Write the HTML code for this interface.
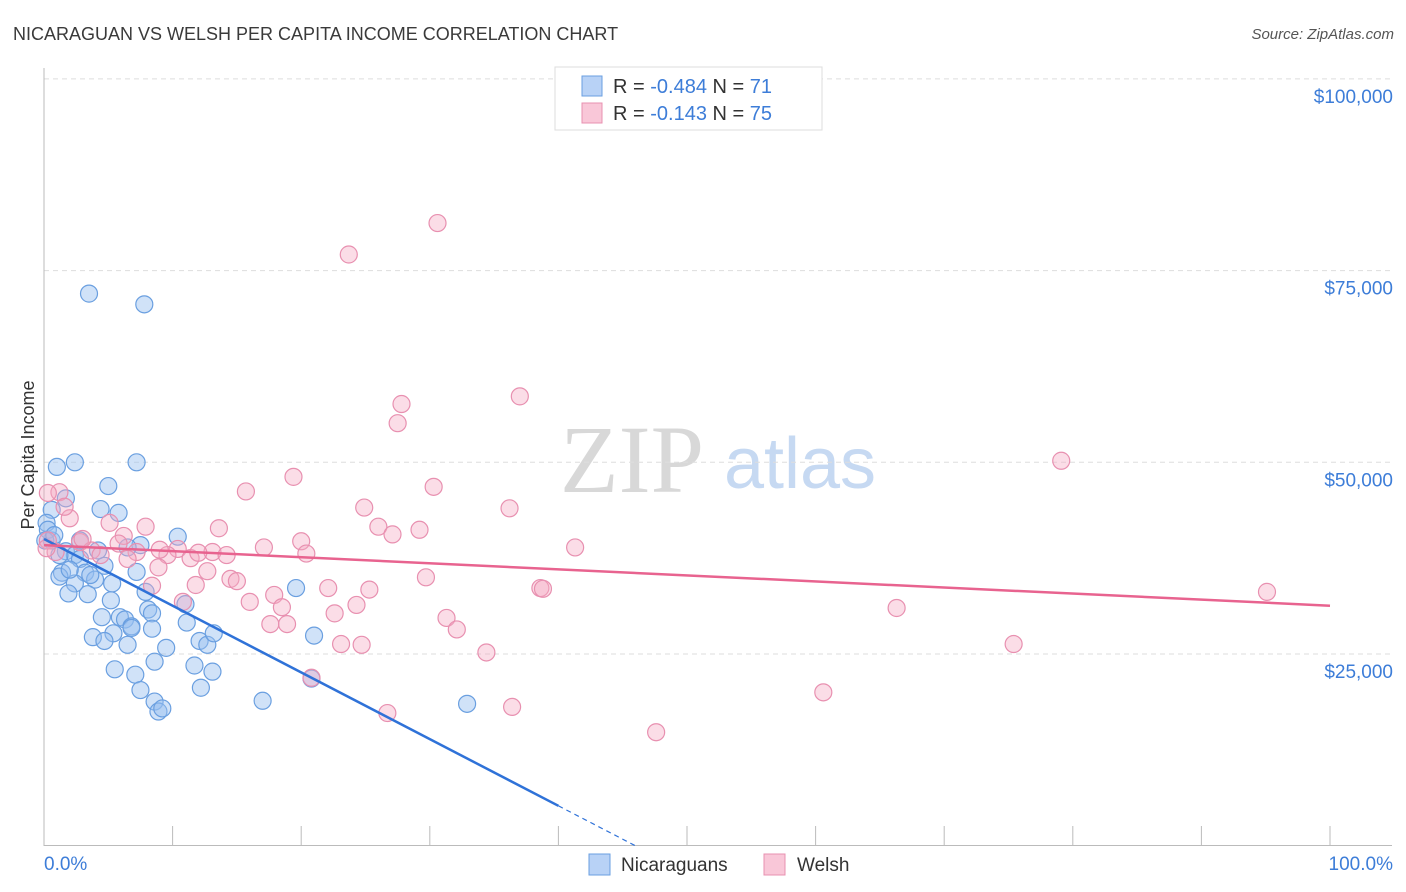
<!DOCTYPE html>
<html><head><meta charset="utf-8"><style>
body{margin:0;background:#fff;font-family:"Liberation Sans",sans-serif}
svg{display:block}
</style></head><body>
<svg width="1406" height="892" xmlns="http://www.w3.org/2000/svg">
<text x="13" y="40" font-size="18" fill="#3a3a3a">NICARAGUAN VS WELSH PER CAPITA INCOME CORRELATION CHART</text>
<text x="1394" y="39" font-size="15" fill="#555" font-style="italic" text-anchor="end">Source: ZipAtlas.com</text>
<g>
<text x="632" y="492" font-size="96" fill="#d8d8d8" font-family="Liberation Serif,serif" text-anchor="middle">ZIP</text>
<text x="800" y="488" font-size="72" fill="#c6d9f2" text-anchor="middle">atlas</text>
</g>
<g id="grid"></g>
<g id="axes"></g>
<g id="marks"></g>
<text transform="translate(34,455) rotate(-90)" font-size="18" fill="#333" text-anchor="middle">Per Capita Income</text>
<g>
<rect x="555" y="67" width="267" height="63" fill="#fff" stroke="#ddd"/>
<rect x="582" y="76" width="20" height="20" fill="#b8d2f6" stroke="#6a9fe0"/>
<rect x="582" y="103" width="20" height="20" fill="#f9c7d8" stroke="#e890b0"/>
<text x="613" y="93" font-size="20" fill="#333">R = <tspan fill="#3d7dd8">-0.484</tspan>   N = <tspan fill="#3d7dd8">71</tspan></text>
<text x="613" y="120" font-size="20" fill="#333">R =  <tspan fill="#3d7dd8">-0.143</tspan>   N = <tspan fill="#3d7dd8">75</tspan></text>
</g>
<g>
<rect x="589" y="854" width="21" height="21" fill="#b8d2f6" stroke="#6a9fe0"/>
<text x="621" y="871" font-size="19" fill="#333">Nicaraguans</text>
<rect x="764" y="854" width="21" height="21" fill="#f9c7d8" stroke="#e890b0"/>
<text x="797" y="871" font-size="19" fill="#333">Welsh</text>
</g>
</svg>
<script>
const yTicks=[25000,50000,75000,100000];
const yTickLabels=["$25,000","$50,000","$75,000","$100,000"];
const xTickVals=[0,10,20,30,40,50,60,70,80,90,100];
const blueX=[3.5,7.8,1.0,2.4,7.2,1.7,5.0,0.6,4.4,5.8,0.2,10.4,0.6,7.5,1.7,2.4,4.2,6.5,2.8,4.7,7.2,1.4,3.2,3.97,1.2,2.4,1.9,3.4,5.2,8.1,8.4,4.5,5.9,6.3,11.0,11.1,6.8,8.4,3.8,5.4,4.7,6.5,12.1,12.7,13.2,9.5,8.6,11.7,5.5,13.1,7.1,7.5,12.2,8.6,8.9,9.2,19.6,21.0,17.0,20.8,32.9,6.8,0.3,0.1,3.6,5.3,1.2,7.9,2.8,0.8,2.0];
const blueY=[72.0,70.6,49.4,50.0,50.0,45.3,46.9,43.8,43.9,43.4,42.1,40.3,39.8,39.2,38.4,37.9,38.5,38.9,37.4,36.5,35.7,35.6,35.6,34.7,35.1,34.2,32.9,32.8,32.0,30.8,30.3,29.8,29.8,29.5,31.5,29.1,28.6,28.3,27.2,27.7,26.7,26.2,26.7,26.2,27.7,25.8,24.0,23.5,23.0,22.7,22.3,20.3,20.6,18.8,17.5,17.9,33.6,27.4,18.9,21.8,18.5,28.4,41.2,39.8,35.3,34.2,37.9,33.1,39.8,40.5,36.0];
const pinkX=[30.6,23.7,27.8,37.0,27.5,79.1,19.4,30.3,15.7,1.2,0.3,24.9,36.2,2.0,7.9,13.6,26.0,29.2,27.1,5.1,2.8,6.2,20.0,17.1,41.3,10.4,3.7,7.2,13.1,20.4,14.2,9.6,0.9,11.4,6.5,4.4,8.9,12.7,14.5,15.0,29.7,8.4,11.8,22.1,25.3,38.6,17.9,16.0,10.8,18.5,24.3,66.3,95.1,22.6,31.3,17.6,18.9,32.1,23.1,24.7,75.4,34.4,20.8,60.6,26.7,36.4,47.6,0.3,0.2,5.8,1.6,3.0,9.0,38.8,12.0];
const pinkY=[81.2,77.1,57.6,58.6,55.1,50.2,48.1,46.8,46.2,46.1,46.0,44.1,44.0,42.7,41.6,41.4,41.6,41.2,40.6,42.1,39.6,40.4,39.7,38.9,38.9,38.7,38.5,38.3,38.3,38.1,37.9,37.9,38.3,37.5,37.4,37.9,36.3,35.8,34.8,34.5,35.0,33.9,34.0,33.6,33.4,33.6,32.7,31.8,31.8,31.1,31.4,31.0,33.1,30.3,29.7,28.9,28.9,28.2,26.3,26.2,26.3,25.2,21.9,20.0,17.3,18.1,14.8,39.8,38.8,39.4,44.2,40.0,38.6,33.5,38.2];
const blueTrend=[40.0,-0.87];
const pinkTrend=[39.2,-0.079];
const NS="http://www.w3.org/2000/svg";
function X(p){return 44+p*12.86;}
function Y(k){return 845.7-k*1000*191.7/25000;}
function mk(t,a,parent){const e=document.createElementNS(NS,t);for(const k in a)e.setAttribute(k,a[k]);document.getElementById(parent).appendChild(e);return e;}
yTicks.forEach((v,i)=>{
 const l=mk('line',{x1:44,x2:1392,y1:Y(v/1000),y2:Y(v/1000),stroke:'#ddd','stroke-dasharray':'5,4'},'grid');
 
 
 const t=mk('text',{x:1393,y:Y(v/1000)+24,'font-size':19,fill:'#3d7dd8','text-anchor':'end'},'grid');
 t.textContent=yTickLabels[i];
 
 
});
let ax=mk('line',{x1:44,x2:44,y1:68,y2:846,stroke:'#bbb'},'axes');


ax=mk('line',{x1:44,x2:1392,y1:845.5,y2:845.5,stroke:'#bbb'},'axes');


xTickVals.forEach(v=>{
 if(v===0)return;
 const t=mk('line',{x1:X(v),x2:X(v),y1:826,y2:845,stroke:'#bbb'},'axes');
 
 
});
let xl=mk('text',{x:44,y:870,'font-size':19,fill:'#3d7dd8'},'axes');xl.textContent='0.0%';


xl=mk('text',{x:1393,y:870,'font-size':19,fill:'#3d7dd8','text-anchor':'end'},'axes');xl.textContent='100.0%';


blueX.forEach((x,i)=>{
 const c=mk('circle',{cx:X(x),cy:Y(blueY[i]),r:8.5,fill:'rgba(150,190,240,0.45)',stroke:'#6a9fe0','stroke-width':1.2},'marks');
 
 
});
pinkX.forEach((x,i)=>{
 const c=mk('circle',{cx:X(x),cy:Y(pinkY[i]),r:8.5,fill:'rgba(245,170,195,0.4)',stroke:'#e890b0','stroke-width':1.2},'marks');
 
 
});
const bz=-blueTrend[0]/blueTrend[1];
let tl=mk('line',{x1:X(0),y1:Y(blueTrend[0]),x2:X(40),y2:Y(blueTrend[0]+40*blueTrend[1]),stroke:'#2f72d8','stroke-width':2.5},'marks');


tl=mk('line',{x1:X(40),y1:Y(blueTrend[0]+40*blueTrend[1]),x2:X(bz),y2:Y(0),stroke:'#2f72d8','stroke-width':1.2,'stroke-dasharray':'5,4'},'marks');


tl=mk('line',{x1:X(0),y1:Y(pinkTrend[0]),x2:X(100),y2:Y(pinkTrend[0]+100*pinkTrend[1]),stroke:'#e8638f','stroke-width':2.5},'marks');


</script>
</body></html>
